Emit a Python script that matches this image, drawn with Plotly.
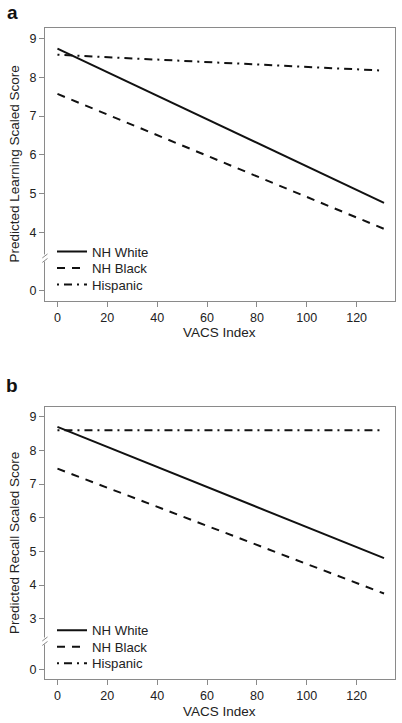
import plotly.graph_objects as go

# ---------------- data ----------------
vacs_x = [0, 131]

groups = ["NH White", "NH Black", "Hispanic"]

learn_white = [8.74, 4.76]
learn_black = [7.57, 4.09]
learn_hisp = [8.58, 8.17]

recall_white = [8.70, 4.80]
recall_black = [7.46, 3.75]
recall_hisp = [8.60, 8.60]

x_ticks = [0, 20, 40, 60, 80, 100, 120]
learn_ticks = [4, 5, 6, 7, 8, 9]
recall_ticks = [3, 4, 5, 6, 7, 8, 9]
# position (on the compressed axis) at which the "0" tick is shown
learn_zero_pos = 2.49
recall_zero_pos = 1.49
learn_break = 3.34
recall_break = 2.34

W, H = 402, 723
FONT = "Liberation Sans, Arial, Helvetica, sans-serif"
INK = "#111111"
GRID = "#8a8a8a"
TXT = "#222222"

styles = {
    "NH White": dict(color=INK, width=2, dash="solid"),
    "NH Black": dict(color=INK, width=2, dash="8px,7px"),
    "Hispanic": dict(color=INK, width=2, dash="2px,5px,8px,5px"),
}


def py(p):
    return 1 - p / H


def px(p):
    return p / W


fig = go.Figure()

panel_a = [learn_white, learn_black, learn_hisp]
panel_b = [recall_white, recall_black, recall_hisp]
legend_rows_a = [252, 268.5, 285]
legend_rows_b = [630.7, 647.2, 663.7]

legend_layout = {}
k = 0
for (xa, ya, series, rows) in [("x", "y", panel_a, legend_rows_a),
                               ("x2", "y2", panel_b, legend_rows_b)]:
    for g, ys, row in zip(groups, series, rows):
        k += 1
        lname = "legend" if k == 1 else f"legend{k}"
        fig.add_trace(go.Scatter(x=vacs_x, y=ys, mode="lines", name=g,
                                 line=styles[g], xaxis=xa, yaxis=ya,
                                 legend=lname))
        legend_layout[lname] = dict(
            x=px(52), y=py(row), xanchor="left", yanchor="middle",
            bgcolor="rgba(0,0,0,0)", borderwidth=0, itemwidth=30,
            font=dict(family=FONT, size=13.2, color=TXT))

xdom = [px(45), px(394.5)]
dom_a = [py(301), py(28)]
dom_b = [py(679), py(406.7)]

axis_common = dict(showline=True, linecolor=GRID, linewidth=1, mirror=True,
                   ticks="outside", ticklen=5, tickcolor=GRID, tickwidth=1,
                   showgrid=False, zeroline=False, automargin=False,
                   tickfont=dict(family=FONT, size=12.5, color=TXT))

xr = [-5, 135.2]
fig.update_layout(
    xaxis=dict(domain=xdom, anchor="y", range=xr, tickvals=x_ticks, **axis_common),
    yaxis=dict(domain=dom_a, anchor="x", range=[2.23, 9.27],
               tickvals=[learn_zero_pos] + learn_ticks,
               ticktext=["0"] + [str(t) for t in learn_ticks], **axis_common),
    xaxis2=dict(domain=xdom, anchor="y2", range=xr, tickvals=x_ticks, **axis_common),
    yaxis2=dict(domain=dom_b, anchor="x2", range=[1.21, 9.30],
                tickvals=[recall_zero_pos] + recall_ticks,
                ticktext=["0"] + [str(t) for t in recall_ticks], **axis_common),
    width=W, height=H,
    margin=dict(l=0, r=0, t=0, b=0),
    paper_bgcolor="white", plot_bgcolor="white",
    showlegend=True,
    **legend_layout,
)

title_font = dict(family=FONT, size=13.5, color=TXT)
ann = dict(xref="paper", yref="paper", showarrow=False,
           xanchor="center", yanchor="middle")
# axis titles
fig.add_annotation(text="VACS Index", x=px(219.5), y=py(333), font=title_font, **ann)
fig.add_annotation(text="VACS Index", x=px(219.5), y=py(711.5), font=title_font, **ann)
fig.add_annotation(text="Predicted Learning Scaled Score", x=px(14), y=py(164.5),
                   textangle=-90, font=title_font, **ann)
fig.add_annotation(text="Predicted Recall Scaled Score", x=px(14), y=py(543),
                   textangle=-90, font=title_font, **ann)

# panel letters
fig.add_annotation(text="<b>a</b>", x=px(12), y=py(12),
                   font=dict(family=FONT, size=19, color="#111"), **ann)
fig.add_annotation(text="<b>b</b>", x=px(12), y=py(385),
                   font=dict(family=FONT, size=19, color="#111"), **ann)

# axis-break marks on the left spine
for yref, brk, span, dom in [("y", learn_break, 7.04, dom_a), ("y2", recall_break, 8.09, dom_b)]:
    unit = span / ((dom[1] - dom[0]) * H)  # data units per pixel
    fig.add_shape(type="rect", xref="paper", yref=yref,
                  x0=px(43), x1=px(47.5), y0=brk - 3.5 * unit, y1=brk + 3.5 * unit,
                  fillcolor="white", line=dict(width=0), layer="above")
    for off in (2.0, -2.5):
        fig.add_shape(type="line", xref="paper", yref=yref,
                      x0=px(42.3), x1=px(47.5),
                      y0=brk + (off - 2.0) * unit, y1=brk + (off + 2.0) * unit,
                      line=dict(color=GRID, width=1), layer="above")

fig.write_html("out.html", config={"displayModeBar": False},
               post_script="document.body.style.margin='0';document.body.style.overflow='hidden';")
